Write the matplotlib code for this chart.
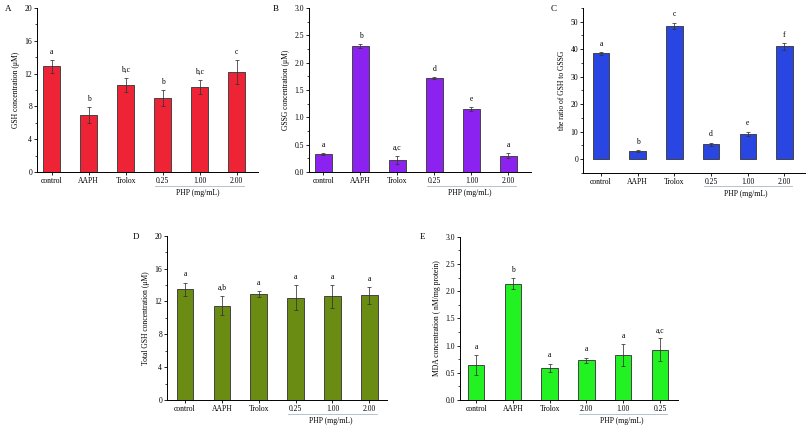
import matplotlib
matplotlib.use("Agg")
import matplotlib.pyplot as plt
from matplotlib.ticker import AutoMinorLocator, MultipleLocator

plt.rcParams['font.family'] = ['Liberation Serif', 'DejaVu Serif']

# ---- data ----
cats_abcd = ["control", "AAPH", "Trolox", "0.25", "1.00", "2.00"]
cats_e = ["control", "AAPH", "Trolox", "2.00", "1.00", "0.25"]

gsh = [12.9, 6.95, 10.6, 9.05, 10.4, 12.2]
gsh_err = [0.8, 1.0, 0.9, 0.95, 0.85, 1.45]
gsh_let = ["a", "b", "b,c", "b", "b,c", "c"]

gssg = [0.33, 2.30, 0.22, 1.72, 1.15, 0.30]
gssg_err = [0.02, 0.04, 0.07, 0.01, 0.04, 0.05]
gssg_let = ["a", "b", "a,c", "d", "e", "a"]

ratio = [38.5, 3.0, 48.5, 5.3, 9.2, 41.0]
ratio_err = [0.5, 0.3, 1.2, 0.7, 0.8, 1.2]
ratio_let = ["a", "b", "c", "d", "e", "f"]

tgsh = [13.5, 11.5, 12.9, 12.45, 12.6, 12.75]
tgsh_err = [0.8, 1.15, 0.35, 1.5, 1.35, 1.05]
tgsh_let = ["a", "a,b", "a", "a", "a", "a"]

mda = [0.64, 2.14, 0.59, 0.73, 0.83, 0.92]
mda_err = [0.18, 0.1, 0.08, 0.05, 0.2, 0.21]
mda_let = ["a", "b", "a", "a", "a", "a,c"]

W, H = 808, 428
fig = plt.figure(figsize=(W / 100, H / 100), dpi=100)

def rect(l, r, top, bot):
    return [l / W, 1 - bot / H, (r - l) / W, (bot - top) / H]

panels = [
    dict(pos=rect(37, 258, 8, 172), cats=cats_abcd, vals=gsh, err=gsh_err, let=gsh_let,
         color="#ee2436", ylim=(0, 20), major=4, ylabel="GSH concentration (\u03bcM)",
         xlim=(-0.4, 5.58), tag="A", tagxy=(5, 9), fmt="%d"),
    dict(pos=rect(309, 531, 8, 172), cats=cats_abcd, vals=gssg, err=gssg_err, let=gssg_let,
         color="#8c22f0", ylim=(0, 3.0), major=0.5, ylabel="GSSG concentration (\u03bcM)",
         xlim=(-0.39, 5.61), tag="B", tagxy=(273, 9), fmt="%.1f"),
    dict(pos=rect(583, 805, 8, 172.7), cats=cats_abcd, vals=ratio, err=ratio_err, let=ratio_let,
         color="#2a46e2", ylim=(-5, 55), major=10, ylabel="the ratio of GSH to GSSG",
         xlim=(-0.49, 5.56), tag="C", tagxy=(551, 9), fmt="%d", yticks=[0, 10, 20, 30, 40, 50]),
    dict(pos=rect(167, 387, 235.7, 400), cats=cats_abcd, vals=tgsh, err=tgsh_err, let=tgsh_let,
         color="#6a8c12", ylim=(0, 20), major=4, ylabel="Total GSH concentration (\u03bcM)",
         xlim=(-0.49, 5.48), tag="D", tagxy=(133, 237), fmt="%d"),
    dict(pos=rect(460, 678, 236.7, 400), cats=cats_e, vals=mda, err=mda_err, let=mda_let,
         color="#22f222", ylim=(0, 3.0), major=0.5, ylabel="MDA concentration ( nM/mg protein)",
         xlim=(-0.44, 5.49), tag="E", tagxy=(420, 237), fmt="%.1f"),
]

fs = 5.5
for p in panels:
    ax = fig.add_axes(p["pos"])
    x = list(range(len(p["cats"])))
    ax.bar(x, p["vals"], width=0.45, color=p["color"], edgecolor="#444444", linewidth=0.7,
           zorder=2)
    ax.errorbar(x, p["vals"], yerr=p["err"], fmt="none", ecolor="#333333", elinewidth=0.55,
                capsize=1.5, capthick=0.55, zorder=3)
    yr = p["ylim"][1] - p["ylim"][0]
    for xi, v, e, l in zip(x, p["vals"], p["err"], p["let"]):
        ax.text(xi, v + e + 0.025 * yr, l, ha="center", va="bottom", fontsize=fs)
    ax.set_xlim(*p["xlim"])
    ax.set_ylim(*p["ylim"])
    if "yticks" in p:
        ax.set_yticks(p["yticks"])
        ax.yaxis.set_minor_locator(MultipleLocator(5))
    else:
        ax.yaxis.set_major_locator(MultipleLocator(p["major"]))
        ax.yaxis.set_minor_locator(AutoMinorLocator(2))
    ax.yaxis.set_major_formatter(matplotlib.ticker.FormatStrFormatter(p["fmt"]))
    ax.set_xticks(x)
    ax.set_xticklabels(p["cats"])
    for s in ["top", "right"]:
        ax.spines[s].set_visible(False)
    for s in ["left", "bottom"]:
        ax.spines[s].set_linewidth(0.7)
    ax.tick_params(axis="both", which="major", labelsize=fs, length=2, width=0.6, pad=1.5,
                   direction="out")
    ax.tick_params(axis="y", which="minor", length=1.2, width=0.5)
    ax.set_ylabel(p["ylabel"], fontsize=fs, labelpad=3)
    ax.set_facecolor("none")
    # group line for PHP
    ax.plot([2.8, 5.2], [-0.083, -0.083], color="#a9b8c0", lw=0.6,
            transform=ax.get_xaxis_transform(), clip_on=False)
    ax.text(3.95, -0.105, "PHP (mg/mL)", transform=ax.get_xaxis_transform(),
            ha="center", va="top", fontsize=fs)
    fig.text(p["tagxy"][0] / W, 1 - p["tagxy"][1] / H, p["tag"], fontsize=6.5,
             ha="left", va="center")

fig.savefig("out.png", dpi=100)
